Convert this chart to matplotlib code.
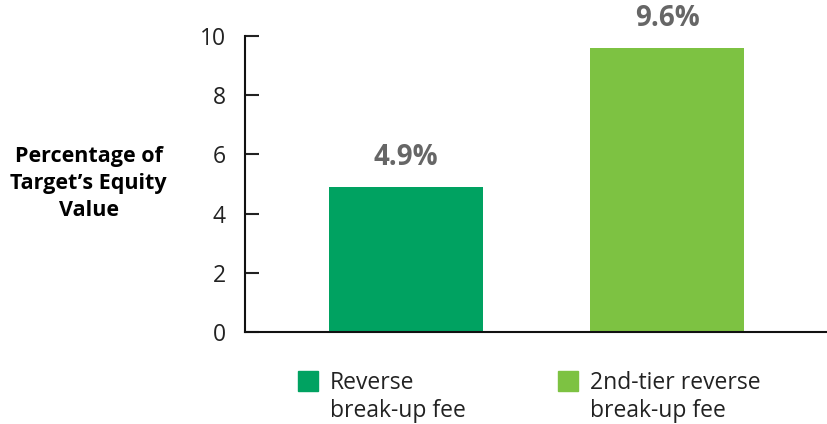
import matplotlib.pyplot as plt
from matplotlib.patches import Rectangle
import numpy as np

categories = ["Reverse\nbreak-up fee", "2nd-tier reverse\nbreak-up fee"]
values = [4.9, 9.6]
value_labels = ["4.9%", "9.6%"]
colors = ["#00A261", "#7DC242"]
yticks = [0, 2, 4, 6, 8, 10]

plt.rcParams['font.family'] = ['Open Sans', 'DejaVu Sans']

fig = plt.figure(figsize=(8.28, 4.24), dpi=100)
ax = fig.add_axes([0.296, 0.217, 0.704, 0.698])

x = np.arange(len(values))
bars = ax.bar(x, values, width=0.59, color=colors)

for xi, v, lab in zip(x, values, value_labels):
    ax.text(xi, v + 0.75, lab, ha="center", va="baseline", fontsize=20,
            fontweight="bold", color="#666666")

ax.set_xlim(-0.617, 1.617)
ax.set_ylim(0, 10)
ax.set_yticks(yticks)
ax.set_xticks([])
ax.tick_params(axis="y", direction="in", length=10, width=1.5, pad=14,
               labelsize=16.5, colors="#222222")
for s in ["top", "right"]:
    ax.spines[s].set_visible(False)
for s in ["left", "bottom"]:
    ax.spines[s].set_linewidth(1.5)
    ax.spines[s].set_color("#111111")

fig.text(0.107, 0.567, "Percentage of\nTarget\u2019s Equity\nValue", ha="center",
         va="center", fontsize=15.5, fontweight="bold", linespacing=1.38)

# legend drawn by hand so the squares line up with the first text line
W, H = 828, 424
for bar, lab, sx in zip(bars, categories, [298, 558]):
    fig.patches.append(Rectangle((sx / W, 1 - 391 / H), 20 / W, 20 / H,
                                 transform=fig.transFigure,
                                 color=bar.get_facecolor()))
    fig.text((sx + 32) / W, 1 - 371 / H, lab, ha="left", va="top",
             fontsize=16.5, color="#222222", linespacing=1.2)

fig.savefig("out.png", dpi=100)
